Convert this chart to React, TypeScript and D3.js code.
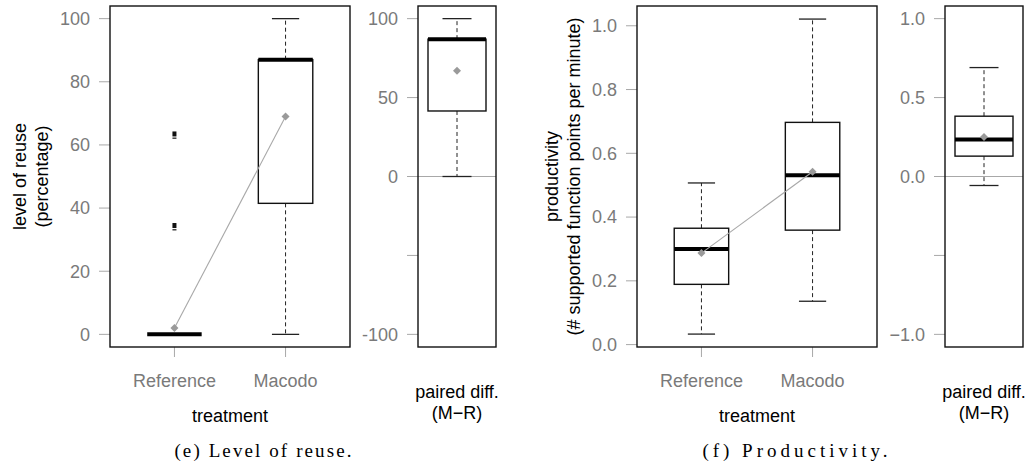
import React from 'react';
import * as d3 from 'd3';

// treatment groups
const groups = ['Reference', 'Macodo'];

// level of reuse (percentage), per group: [min, q1, median, q3, max]
const reuseFive = [
  [0, 0, 0, 0, 0],
  [0, 41.5, 87, 87, 100],
];
const reuseMeans = [2, 69];
const reuseOutliers = [[34, 63], []];
const reuseTicks = [0, 20, 40, 60, 80, 100];

// paired difference Macodo - Reference, reuse
const reuseDiffFive = [0, 41.5, 87, 87, 100];
const reuseDiffMean = 67;
const reuseDiffTicks = [-100, -50, 0, 50, 100];
const reuseDiffLabels = ['-100', '', '0', '50', '100'];

// productivity (# supported function points per minute)
const prodFive = [
  [0.033, 0.189, 0.3, 0.365, 0.507],
  [0.136, 0.359, 0.531, 0.697, 1.021],
];
const prodMeans = [0.287, 0.542];
const prodTicks = [0, 0.2, 0.4, 0.6, 0.8, 1.0];

const prodDiffFive = [-0.057, 0.129, 0.234, 0.382, 0.69];
const prodDiffMean = 0.25;
const prodDiffTicks = [-1, -0.5, 0, 0.5, 1];
const prodDiffLabels = ['\u22121.0', '', '0.0', '0.5', '1.0'];

const SANS = '"Liberation Sans", Arial, Helvetica, sans-serif';
const SERIF = '"Liberation Serif", "DejaVu Serif", serif';
const TICK_GREY = '#7a7a7a';
const LINE_GREY = '#a8a8a8';
const TOP = 6;
const BOTTOM = 347;

type BoxProps = {
  five: number[];
  cx: number;
  halfW: number;
  y: d3.ScaleLinear<number, number>;
};

// one R-style box: dashed whiskers, caps, box, thick median
const Box = ({ five, cx, halfW, y }: BoxProps) => {
  const [mn, q1, med, q3, mx] = five;
  const capW = halfW / 2;
  return (
    <g>
      <line x1={cx} x2={cx} y1={y(q3)} y2={y(mx)} stroke="#222" strokeWidth={1} strokeDasharray="4,3" />
      <line x1={cx} x2={cx} y1={y(q1)} y2={y(mn)} stroke="#222" strokeWidth={1} strokeDasharray="4,3" />
      <line x1={cx - capW} x2={cx + capW} y1={y(mx)} y2={y(mx)} stroke="#222" strokeWidth={1.3} />
      <line x1={cx - capW} x2={cx + capW} y1={y(mn)} y2={y(mn)} stroke="#222" strokeWidth={1.3} />
      {q3 > q1 && (
        <rect x={cx - halfW} y={y(q3)} width={halfW * 2} height={y(q1) - y(q3)} fill="white" stroke="#111" strokeWidth={1.4} />
      )}
      <line x1={cx - halfW} x2={cx + halfW} y1={y(med)} y2={y(med)} stroke="#000" strokeWidth={4} />
    </g>
  );
};

const Diamond = ({ x, y }: { x: number; y: number }) => (
  <path d={`M${x},${y - 4}L${x + 4},${y}L${x},${y + 4}L${x - 4},${y}Z`} fill="#9a9a9a" />
);

const YAxis = ({ y, ticks, labels, left }: { y: d3.ScaleLinear<number, number>; ticks: number[]; labels: string[]; left: number }) => (
  <g>
    {ticks.map((t, i) => (
      <g key={i}>
        <line x1={left - 11} x2={left} y1={y(t)} y2={y(t)} stroke={LINE_GREY} strokeWidth={1} />
        <text x={left - 20} y={y(t)} dy="0.35em" textAnchor="end" fontSize={18} fill={TICK_GREY} fontFamily={SANS}>
          {labels[i]}
        </text>
      </g>
    ))}
  </g>
);

type GroupPanelProps = {
  left: number;
  right: number;
  domain: [number, number];
  five: number[][];
  means: number[];
  outliers: number[][];
  ticks: number[];
  tickFmt: (v: number) => string;
  titleLines: string[];
  titleX: number[];
};

const GroupPanel = (p: GroupPanelProps) => {
  const y = d3.scaleLinear().domain(p.domain).range([BOTTOM, TOP]);
  const x = d3.scaleLinear().domain([0.42, 2.58]).range([p.left, p.right]);
  const halfW = (x(1.245) - x(1)) ;
  const centers = groups.map((_, i) => x(i + 1));
  const meanLine = d3.line<number>().x((_, i) => centers[i]).y(d => y(d));
  const midY = (TOP + BOTTOM) / 2;
  return (
    <g>
      <YAxis y={y} ticks={p.ticks} labels={p.ticks.map(p.tickFmt)} left={p.left} />
      {p.titleLines.map((t, i) => (
        <text key={i} transform={`translate(${p.titleX[i]},${midY}) rotate(-90)`} textAnchor="middle" fontSize={18} fontFamily={SANS} fill="#000">
          {t}
        </text>
      ))}
      {groups.map((g, i) => (
        <g key={g}>
          <line x1={centers[i]} x2={centers[i]} y1={BOTTOM} y2={BOTTOM + 10} stroke={LINE_GREY} />
          <text x={centers[i]} y={387} textAnchor="middle" fontSize={18} fill={TICK_GREY} fontFamily={SANS}>{g}</text>
        </g>
      ))}
      <text x={(p.left + p.right) / 2} y={422} textAnchor="middle" fontSize={18} fontFamily={SANS} fill="#000">treatment</text>
      {p.five.map((f, i) => (
        <Box key={i} five={f} cx={centers[i]} halfW={halfW} y={y} />
      ))}
      {p.outliers.map((os, i) =>
        os.map((o, j) => (
          <g key={`${i}-${j}`}>
            <rect x={centers[i] - 2} y={y(o) - 4} width={4} height={5} fill="#111" />
            <rect x={centers[i] - 2} y={y(o) + 2} width={4} height={1.5} fill="#444" />
          </g>
        ))
      )}
      <path d={meanLine(p.means) || ''} fill="none" stroke={LINE_GREY} strokeWidth={1.1} />
      {p.means.map((m, i) => (
        <Diamond key={i} x={centers[i]} y={y(m)} />
      ))}
      <rect x={p.left} y={TOP} width={p.right - p.left} height={BOTTOM - TOP} fill="none" stroke="#111" strokeWidth={1.4} />
    </g>
  );
};

type DiffPanelProps = {
  left: number;
  right: number;
  lim: number;
  five: number[];
  mean: number;
  ticks: number[];
  labels: string[];
};

const DiffPanel = (p: DiffPanelProps) => {
  const pad = p.lim * 0.08;
  const y = d3.scaleLinear().domain([-p.lim - pad, p.lim + pad]).range([BOTTOM, TOP]);
  const cx = (p.left + p.right) / 2;
  const halfW = 29;
  return (
    <g>
      <YAxis y={y} ticks={p.ticks} labels={p.labels} left={p.left} />
      <line x1={p.left} x2={p.right} y1={y(0)} y2={y(0)} stroke={LINE_GREY} strokeWidth={1} />
      <Box five={p.five} cx={cx} halfW={halfW} y={y} />
      <Diamond x={cx} y={y(p.mean)} />
      <rect x={p.left} y={TOP} width={p.right - p.left} height={BOTTOM - TOP} fill="none" stroke="#111" strokeWidth={1.4} />
      <text x={cx} y={398} textAnchor="middle" fontSize={18} fontFamily={SANS} fill="#000">paired diff.</text>
      <text x={cx} y={419} textAnchor="middle" fontSize={18} fontFamily={SANS} fill="#000">(M{'\u2212'}R)</text>
    </g>
  );
};

export default function App() {
  return (
    <svg width={1035} height={466} style={{ position: 'absolute', left: 0, top: 0, background: '#fff' }}>
      <GroupPanel
        left={110}
        right={350}
        domain={[-4, 104]}
        five={reuseFive}
        means={reuseMeans}
        outliers={reuseOutliers}
        ticks={reuseTicks}
        tickFmt={d3.format('d')}
        titleLines={['level of reuse', '(percentage)']}
        titleX={[26, 48]}
      />
      <DiffPanel left={418} right={496} lim={100} five={reuseDiffFive} mean={reuseDiffMean} ticks={reuseDiffTicks} labels={reuseDiffLabels} />
      <GroupPanel
        left={637}
        right={877}
        domain={[-0.0075, 1.062]}
        five={prodFive}
        means={prodMeans}
        outliers={[[], []]}
        ticks={prodTicks}
        tickFmt={d3.format('.1f')}
        titleLines={['productivity', '(# supported function points per minute)']}
        titleX={[558, 580]}
      />
      <DiffPanel left={945} right={1023} lim={1} five={prodDiffFive} mean={prodDiffMean} ticks={prodDiffTicks} labels={prodDiffLabels} />
      <text x={264} y={457} textAnchor="middle" fontSize={19} fontFamily={SERIF} fill="#000" letterSpacing={2.1}>
        (e) Level of reuse.
      </text>
      <text x={797} y={457} textAnchor="middle" fontSize={19} fontFamily={SERIF} fill="#000" letterSpacing={4}>
        (f) Productivity.
      </text>
    </svg>
  );
}
